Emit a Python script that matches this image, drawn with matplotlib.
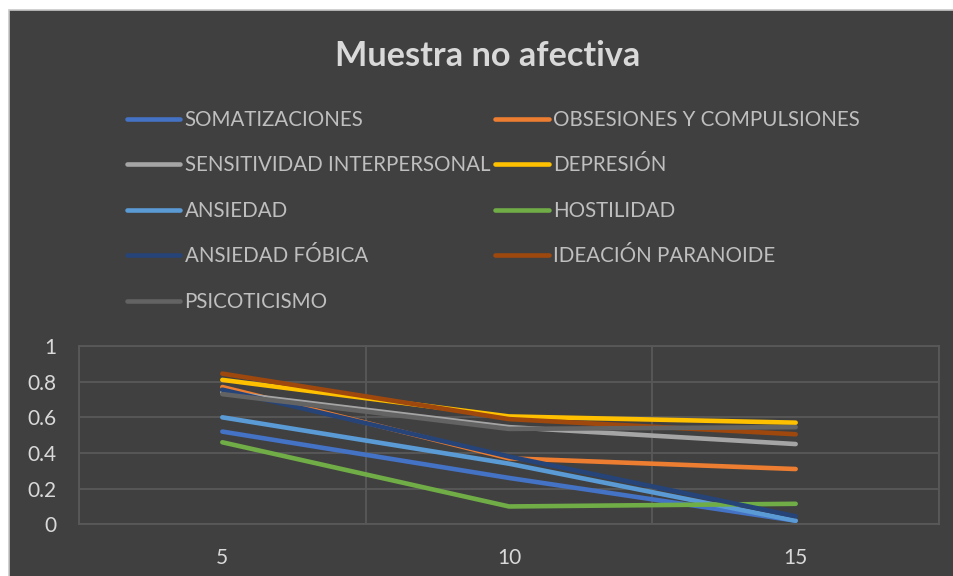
import matplotlib
matplotlib.use('Agg')
import matplotlib.pyplot as plt
from matplotlib.patches import Rectangle

# ---- data ----
categories = ['5', '10', '15']
series_names = ['SOMATIZACIONES', 'OBSESIONES Y COMPULSIONES', 'SENSITIVIDAD INTERPERSONAL',
                'DEPRESIÓN', 'ANSIEDAD', 'HOSTILIDAD', 'ANSIEDAD FÓBICA',
                'IDEACIÓN PARANOIDE', 'PSICOTICISMO']
somatizaciones = [0.52, 0.26, 0.02]
obsesiones = [0.77, 0.37, 0.31]
sensitividad = [0.74, 0.545, 0.45]
depresion = [0.81, 0.605, 0.57]
ansiedad = [0.60, 0.34, 0.02]
hostilidad = [0.46, 0.10, 0.115]
fobica = [0.755, 0.38, 0.045]
ideacion = [0.845, 0.59, 0.505]
psicoticismo = [0.73, 0.535, 0.545]
yticks = [0, 0.2, 0.4, 0.6, 0.8, 1]
ytick_labels = ['0', '0.2', '0.4', '0.6', '0.8', '1']

series_values = [somatizaciones, obsesiones, sensitividad, depresion, ansiedad,
                 hostilidad, fobica, ideacion, psicoticismo]
colors = ['#4472C4', '#ED7D31', '#A5A5A5', '#FFC000', '#5B9BD5',
          '#70AD47', '#264478', '#9E480E', '#636363']

plt.rcParams['font.family'] = ['Lato', 'DejaVu Sans']

W, H = 954, 576
fig = plt.figure(figsize=(W / 100, H / 100), dpi=100)
fig.patch.set_facecolor('white')
bg = Rectangle((9 / W, -0.05), 1.1, 1.05 - 10 / H, transform=fig.transFigure,
               facecolor='#404040', edgecolor='#C8C8C8', linewidth=1.2, zorder=-5)
fig.patches.append(bg)

ax = fig.add_axes([79 / W, 1 - 524.3 / H, 860 / W, 178.3 / H])
ax.set_zorder(2)
ax.set_facecolor('#404040')
x = list(range(len(categories)))
lines = []
for name, vals, c in zip(series_names, series_values, colors):
    ln, = ax.plot(x, vals, color=c, linewidth=3.3, solid_capstyle='round', label=name)
    lines.append(ln)

ax.set_xlim(-0.5, len(categories) - 0.5)
ax.set_ylim(0, 1)
ax.set_xticks(x)
ax.set_xticklabels(categories)
ax.set_xticks([i - 0.5 for i in range(len(categories) + 1)], minor=True)
ax.set_yticks(yticks)
ax.set_yticklabels(ytick_labels)
ax.grid(True, which='minor', axis='x', color='#595959', linewidth=1.3)
ax.grid(True, which='major', axis='y', color='#595959', linewidth=1.3)
ax.grid(False, which='major', axis='x')
ax.set_axisbelow(True)
for s in ax.spines.values():
    s.set_color('#595959')
    s.set_linewidth(1.3)
ax.tick_params(axis='both', which='both', length=0, colors='#D9D9D9', labelsize=15)
ax.tick_params(axis='x', pad=17)
ax.tick_params(axis='y', pad=16)

fig.text(488 / W, 1 - 56 / H, 'Muestra no afectiva', ha='center', va='center',
         fontsize=24.7, fontweight='bold', color='#D9D9D9')

# legend: row-major order in original; matplotlib fills column-major
order = [0, 2, 4, 6, 8, 1, 3, 5, 7]
handles = [lines[i] for i in order]
labels = [series_names[i] for i in order]
leg = fig.legend(handles, labels, loc='upper left', ncol=2,
                 bbox_to_anchor=(127 / W, 1 - 110 / H), frameon=False,
                 borderpad=0, borderaxespad=0, handlelength=2.6, handletextpad=0.2,
                 labelspacing=1.24, columnspacing=0.25, fontsize=14.8)
for t in leg.get_texts():
    t.set_color('#BFBFBF')

fig.savefig('out.png', dpi=100, facecolor=fig.get_facecolor())
